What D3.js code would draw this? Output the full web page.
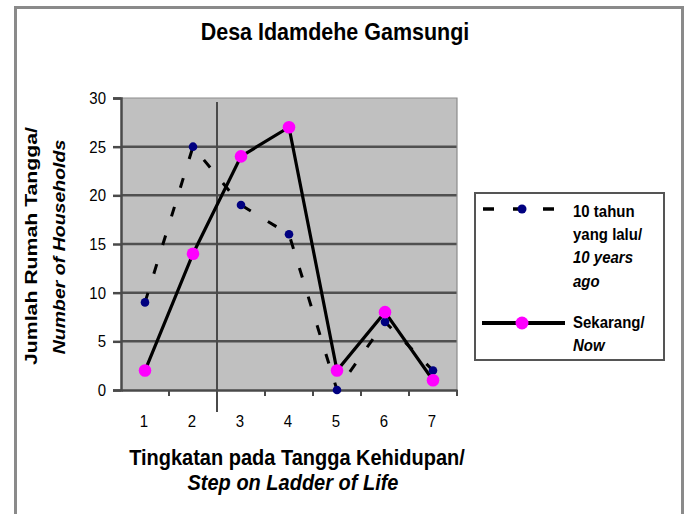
<!DOCTYPE html>
<html>
<head>
<meta charset="utf-8">
<script src="https://cdn.jsdelivr.net/npm/d3@7"></script>
<style>
  html, body { margin: 0; padding: 0; background: #fff; }
  svg { display: block; }
  text { font-family: "Liberation Sans", Arial, sans-serif; fill: #000; }
</style>
</head>
<body>
<svg id="chart" width="689" height="514"></svg>
<script>
// Ladder-of-life steps and household counts per step
const steps = [1, 2, 3, 4, 5, 6, 7];
const tenYearsAgo = [9, 25, 19, 16, 0, 7, 2];
const now = [2, 14, 24, 27, 2, 8, 1];
const yTicks = [0, 5, 10, 15, 20, 25, 30];

const titleText = "Desa Idamdehe Gamsungi";
const yTitle = ["Jumlah Rumah Tangga/", "Number of Households"];
const xTitle = ["Tingkatan pada Tangga Kehidupan/", "Step on Ladder of Life"];
const legendPast = ["10 tahun", "yang lalu/", "10 years", "ago"];
const legendNow = ["Sekarang/", "Now"];

const svg = d3.select("#chart");

// text helper: glyphs drawn slightly taller than wide
function label(parent, x, y, str, opts = {}) {
  const sy = opts.sy || 1.12;
  const sx = opts.sx || 1;
  const rot = opts.rotate || 0;
  return parent.append("text")
    .attr("transform", `translate(${x},${y}) rotate(${rot}) scale(${sx},${sy})`)
    .attr("text-anchor", opts.anchor || "start")
    .style("font-size", (opts.size || 14) + "px")
    .style("font-weight", opts.bold ? "bold" : "normal")
    .style("font-style", opts.italic ? "italic" : "normal")
    .text(str);
}

// outer chart frame
svg.append("rect")
  .attr("x", 15.5).attr("y", 7.5).attr("width", 667).attr("height", 520)
  .attr("fill", "#fff").attr("stroke", "#8a8a8a").attr("stroke-width", 3);

const plot = { left: 121, right: 457, top: 98, bottom: 390 };

const x = d3.scaleBand().domain(steps).range([plot.left, plot.right]).padding(0);
const y = d3.scaleLinear().domain([0, 30]).range([plot.bottom, plot.top]);
const cx = d => x(d) + x.bandwidth() / 2;

// plot background
svg.append("rect")
  .attr("x", plot.left).attr("y", plot.top)
  .attr("width", plot.right - plot.left).attr("height", plot.bottom - plot.top)
  .attr("fill", "#c0c0c0");

// horizontal gridlines
svg.append("g").selectAll("line").data(yTicks.filter(t => t > 0 && t < 30)).join("line")
  .attr("x1", plot.left).attr("x2", plot.right)
  .attr("y1", d => y(d)).attr("y2", d => y(d))
  .attr("stroke", "#505050").attr("stroke-width", 2.5);

// top and right edges of the plot area
svg.append("path")
  .attr("d", `M${plot.left},${plot.top}H${plot.right}V${plot.bottom}`)
  .attr("fill", "none").attr("stroke", "#8c8c8c").attr("stroke-width", 1.2);

// vertical divider between steps 2 and 3
svg.append("line")
  .attr("x1", x(3)).attr("x2", x(3))
  .attr("y1", plot.top + 4).attr("y2", plot.bottom + 22)
  .attr("stroke", "#4a4a4a").attr("stroke-width", 2);

// y axis
const yAxis = d3.axisLeft(y).tickValues(yTicks).tickSize(8).tickFormat("");
const gy = svg.append("g").attr("transform", `translate(${plot.left},0)`).call(yAxis);
gy.select(".domain").attr("stroke", "#4a4a4a").attr("stroke-width", 2.5);
gy.selectAll(".tick line").attr("stroke", "#4a4a4a").attr("stroke-width", 2.5);
yTicks.forEach(t => label(svg, 106, y(t) + 6, String(t), { size: 15, anchor: "end" }));

// x axis with ticks on band boundaries
const xAxis = d3.axisBottom(x).tickSize(0).tickFormat("");
const gx = svg.append("g").attr("transform", `translate(0,${plot.bottom})`).call(xAxis);
gx.select(".domain").attr("stroke", "#4a4a4a").attr("stroke-width", 2.5);
svg.append("g").selectAll("line").data(steps.slice(1).concat([8])).join("line")
  .attr("x1", d => d === 8 ? plot.right : x(d)).attr("x2", d => d === 8 ? plot.right : x(d))
  .attr("y1", plot.bottom).attr("y2", plot.bottom + 6)
  .attr("stroke", "#4a4a4a").attr("stroke-width", 2);
steps.forEach(s => label(svg, cx(s) - 1, 427, String(s), { size: 15, anchor: "middle" }));

const line = d3.line().x((d, i) => cx(steps[i])).y(d => y(d));

// series: 10 years ago (dashed)
svg.append("path").datum(tenYearsAgo)
  .attr("d", line).attr("fill", "none")
  .attr("stroke", "#000").attr("stroke-width", 3)
  .attr("stroke-dasharray", "10,20");

// series: now (solid)
svg.append("path").datum(now)
  .attr("d", line).attr("fill", "none")
  .attr("stroke", "#000").attr("stroke-width", 3.2);

svg.append("g").selectAll("circle").data(tenYearsAgo).join("circle")
  .attr("cx", (d, i) => cx(steps[i])).attr("cy", d => y(d))
  .attr("r", 4.3).attr("fill", "#000080");

svg.append("g").selectAll("circle").data(now).join("circle")
  .attr("cx", (d, i) => cx(steps[i])).attr("cy", d => y(d))
  .attr("r", 6.3).attr("fill", "#ff00ff");

// title
label(svg, 335, 40, titleText, { size: 21.5, bold: true, anchor: "middle" });

// y axis title (rotated, stretched along its length)
label(svg, 37, 246, yTitle[0], { size: 17, bold: true, anchor: "middle", rotate: -90, sx: 1.25, sy: 1 });
label(svg, 65, 247, yTitle[1], { size: 16, bold: true, italic: true, anchor: "middle", rotate: -90, sx: 1.22, sy: 1 });

// x axis title
label(svg, 297, 465, xTitle[0], { size: 20, bold: true, anchor: "middle" });
label(svg, 293, 490, xTitle[1], { size: 20, bold: true, italic: true, anchor: "middle" });

// legend
const lg = svg.append("g");
lg.append("rect").attr("x", 475).attr("y", 193).attr("width", 189).attr("height", 167)
  .attr("fill", "#fff").attr("stroke", "#555").attr("stroke-width", 2);

lg.append("line").attr("x1", 483).attr("x2", 556).attr("y1", 209).attr("y2", 209)
  .attr("stroke", "#000").attr("stroke-width", 3.5).attr("stroke-dasharray", "11,19");
lg.append("circle").attr("cx", 522).attr("cy", 209).attr("r", 4.5).attr("fill", "#000080");
legendPast.forEach((t, i) => {
  label(lg, 573, 217 + i * 23.2, t, { size: 15, bold: true, italic: i >= 2 });
});

lg.append("line").attr("x1", 482).attr("x2", 565).attr("y1", 323).attr("y2", 323)
  .attr("stroke", "#000").attr("stroke-width", 3.8);
lg.append("circle").attr("cx", 522).attr("cy", 323).attr("r", 6.5).attr("fill", "#ff00ff");
legendNow.forEach((t, i) => {
  label(lg, 573, 328 + i * 23.2, t, { size: 15, bold: true, italic: i === 1 });
});
</script>
</body>
</html>
